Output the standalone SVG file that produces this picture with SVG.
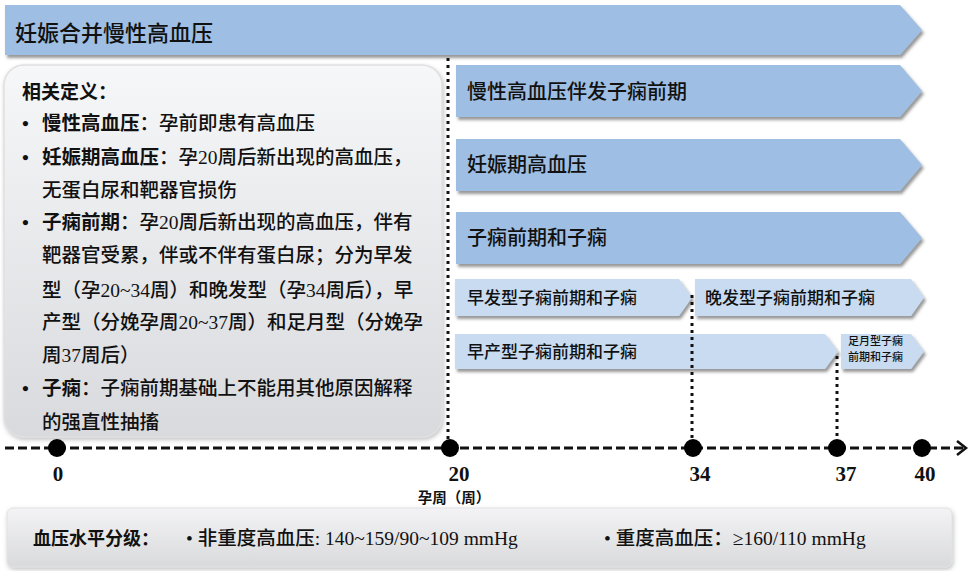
<svg xmlns="http://www.w3.org/2000/svg" width="975" height="571" viewBox="0 0 975 571">
<defs>
<linearGradient id="gBox" x1="0" y1="0" x2="0" y2="1">
<stop offset="0" stop-color="#f6f7f9"/>
<stop offset="1" stop-color="#d9dadd"/>
</linearGradient>
<linearGradient id="gBar" x1="0" y1="0" x2="0" y2="1">
<stop offset="0" stop-color="#f3f3f5"/>
<stop offset="1" stop-color="#d9dadc"/>
</linearGradient>
<filter id="sh" x="-5%" y="-20%" width="110%" height="150%">
<feDropShadow dx="2" dy="3" stdDeviation="1.5" flood-color="#444" flood-opacity="0.55"/>
</filter>
<filter id="shs" x="-5%" y="-10%" width="110%" height="130%">
<feDropShadow dx="1" dy="2" stdDeviation="2" flood-color="#666" flood-opacity="0.4"/>
</filter>
</defs>
<style>
.dark{fill:#9ebee3;filter:url(#sh)}
.light{fill:#c8dbf0;filter:url(#sh)}
.cjk{font-family:"Noto Sans CJK SC",sans-serif;fill:#111;font-weight:500}
.mix{font-family:"Liberation Serif","Noto Sans CJK SC",serif;fill:#111;font-weight:500}
.b{font-weight:bold}
.num{font-family:"Liberation Serif",serif;font-weight:bold;font-size:21px;fill:#111;text-anchor:middle}
.dot{fill:#000}
.dotted{stroke:#111;stroke-width:3;stroke-dasharray:3 4;fill:none}
</style>
<rect width="975" height="571" fill="#ffffff"/>

<g id="title">
<polygon class="dark" points="5,5 900,5 922,30 900,55 5,55"/>
<text class="cjk" x="15" y="41" font-size="22">妊娠合并慢性高血压</text>
</g>

<g id="definitions">
<rect x="4" y="65" width="438" height="372" rx="20" fill="url(#gBox)" stroke="#e0e0e2" stroke-width="1.5" filter="url(#shs)"/>
<text class="cjk b" x="22" y="99" font-size="19">相关定义：</text>
<g class="mix" font-size="19.5">
<text x="22" y="130" class="b">•</text>
<text x="42" y="130"><tspan class="b">慢性高血压</tspan>：孕前即患有高血压</text>
<text x="22" y="164" class="b">•</text>
<text x="42" y="164"><tspan class="b">妊娠期高血压</tspan>：孕20周后新出现的高血压，</text>
<text x="42" y="197">无蛋白尿和靶器官损伤</text>
<text x="22" y="229" class="b">•</text>
<text x="42" y="229"><tspan class="b">子痫前期</tspan>：孕20周后新出现的高血压，伴有</text>
<text x="42" y="262">靶器官受累，伴或不伴有蛋白尿；分为早发</text>
<text x="42" y="297">型（孕20~34周）和晚发型（孕34周后），早</text>
<text x="42" y="329">产型（分娩孕周20~37周）和足月型（分娩孕</text>
<text x="42" y="362">周37周后）</text>
<text x="22" y="395" class="b">•</text>
<text x="42" y="395"><tspan class="b">子痫</tspan>：子痫前期基础上不能用其他原因解释</text>
<text x="42" y="429">的强直性抽搐</text>
</g>
</g>

<g id="chronic-pe">
<polygon class="dark" points="456,65 900,65 922,91 900,117 456,117"/>
<text class="cjk" x="467" y="99" font-size="20">慢性高血压伴发子痫前期</text>
</g>
<g id="gestational">
<polygon class="dark" points="456,139 900,139 922,165 900,191 456,191"/>
<text class="cjk" x="467" y="172" font-size="20">妊娠期高血压</text>
</g>
<g id="pe-eclampsia">
<polygon class="dark" points="456,212 900,212 922,238 900,264 456,264"/>
<text class="cjk" x="467" y="245" font-size="20">子痫前期和子痫</text>
</g>
<g id="early-onset">
<polygon class="light" points="455,279 679,279 692,297.5 679,316 455,316"/>
<text class="cjk" x="467" y="304" font-size="17">早发型子痫前期和子痫</text>
</g>
<g id="late-onset">
<polygon class="light" points="695,279 911,279 924,297.5 911,316 695,316"/>
<text class="cjk" x="705" y="304" font-size="17">晚发型子痫前期和子痫</text>
</g>
<g id="preterm">
<polygon class="light" points="455,334 825,334 838,351.5 825,369 455,369"/>
<text class="cjk" x="467" y="358" font-size="17">早产型子痫前期和子痫</text>
</g>
<g id="term">
<polygon class="light" points="841,334 911,334 924,351.5 911,369 841,369"/>
<text class="cjk" x="848" y="345" font-size="11">足月型子痫</text>
<text class="cjk" x="848" y="361" font-size="11">前期和子痫</text>
</g>

<g id="connectors">
<line class="dotted" x1="448" y1="58" x2="448" y2="446"/>
<line class="dotted" x1="692" y1="295" x2="692" y2="446"/>
<line class="dotted" x1="837" y1="356" x2="837" y2="446"/>
<line x1="5" y1="448" x2="964" y2="448" stroke="#111" stroke-width="3" stroke-dasharray="9 4"/>
<polyline points="957,441 966,448 957,455" fill="none" stroke="#111" stroke-width="2.5"/>
</g>

<g id="timeline-points">
<circle class="dot" cx="57" cy="448" r="9"/>
<circle class="dot" cx="450" cy="448" r="9"/>
<circle class="dot" cx="693" cy="448" r="9"/>
<circle class="dot" cx="837" cy="448" r="9"/>
<circle class="dot" cx="922" cy="448" r="9"/>
<text class="num" x="58" y="481">0</text>
<text class="num" x="459" y="481">20</text>
<text class="num" x="700" y="481">34</text>
<text class="num" x="846" y="481">37</text>
<text class="num" x="925" y="481">40</text>
<text class="cjk b" x="454" y="503" font-size="14.5" text-anchor="middle">孕周（周）</text>
</g>

<g id="bp-levels">
<rect x="7" y="508" width="945" height="59" rx="6" fill="url(#gBar)" stroke="#e2e2e4" stroke-width="1" filter="url(#shs)"/>
<text class="cjk b" x="33" y="545" font-size="18">血压水平分级：</text>
<text class="mix" x="186" y="545" font-size="19.5">• 非重度高血压: 140~159/90~109 mmHg</text>
<text class="mix" x="604" y="545" font-size="19.5">• 重度高血压：≥160/110 mmHg</text>
</g>
</svg>
